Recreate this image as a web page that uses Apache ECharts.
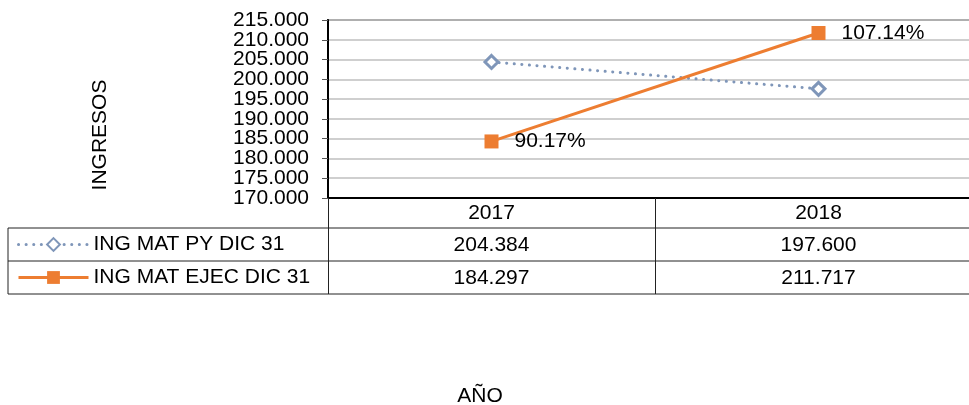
<!DOCTYPE html>
<html>
<head>
<meta charset="utf-8">
<script src="https://cdn.jsdelivr.net/npm/echarts@6/dist/echarts.min.js"></script>
<style>
  html, body { margin: 0; padding: 0; background: #fff; }
  #chart { width: 969px; height: 405px; }
</style>
</head>
<body>
<div id="chart"></div>
<script>
(function() {
  'use strict';

  var years = ['2017', '2018'];
  var ingPy = [204384, 197600];
  var ingEjec = [184297, 211717];
  var pctLabels = ['90.17%', '107.14%'];
  var seriesNames = ['ING MAT PY DIC 31', 'ING MAT EJEC DIC 31'];
  var yMin = 170000, yMax = 215000, yStep = 5000;

  var FONT = '"Liberation Sans", Arial, sans-serif';
  var BLUE = '#7F96B9';
  var ORANGE = '#ED7D31';

  // numero con punto de miles
  function fmt(v) {
    return String(Math.round(v)).replace(/\B(?=(\d{3})+(?!\d))/g, '.');
  }

  var chart = echarts.init(document.getElementById('chart'), null, { renderer: 'canvas' });

  var tableLine = { type: 'line', silent: true, style: { stroke: '#222', lineWidth: 1 } };
  function hLine(y) {
    return Object.assign({}, tableLine, { shape: { x1: 8, y1: y, x2: 990, y2: y } });
  }
  var yLabel = { fontSize: 21, fontFamily: FONT, color: '#000', margin: 19, formatter: fmt };

  chart.setOption({
    animation: false,
    grid: {
      left: 328, top: 20, width: 654, height: 178,
      outerBoundsMode: 'none', containLabel: false,
      show: true, borderColor: '#808080', borderWidth: 2
    },
    legend: {
      data: seriesNames,
      orient: 'vertical',
      left: 17,
      top: 234,
      padding: 0,
      itemWidth: 70,
      itemHeight: 16,
      itemGap: 12,
      lineStyle: { width: 3 },
      textStyle: { fontSize: 21, fontFamily: FONT, color: '#000', lineHeight: 21 }
    },
    xAxis: [
      {
        type: 'category',
        data: years,
        axisLine: { lineStyle: { color: '#000', width: 2 } },
        axisTick: { show: true, length: 96, lineStyle: { color: '#222', width: 1 } },
        axisLabel: { fontSize: 21, fontFamily: FONT, color: '#000', margin: 5 },
        splitLine: { show: false }
      },
      {
        type: 'category',
        data: ingPy.map(fmt),
        position: 'bottom',
        offset: 30,
        axisLine: { show: false },
        axisTick: { show: false },
        axisLabel: { fontSize: 21, fontFamily: FONT, color: '#000', margin: 7 }
      },
      {
        type: 'category',
        data: ingEjec.map(fmt),
        position: 'bottom',
        offset: 63,
        axisLine: { show: false },
        axisTick: { show: false },
        axisLabel: { fontSize: 21, fontFamily: FONT, color: '#000', margin: 7 }
      }
    ],
    yAxis: [
      {
        type: 'value',
        min: yMin,
        max: yMax,
        interval: yStep,
        axisLine: { show: true, lineStyle: { color: '#000', width: 2 } },
        axisTick: { show: true, length: 6, lineStyle: { color: '#555' } },
        axisLabel: Object.assign({ showMinLabel: false, showMaxLabel: false }, yLabel),
        splitLine: { lineStyle: { color: '#bfbfbf', width: 1.5 } }
      },
      {
        // solo etiquetas de min y max
        type: 'value',
        position: 'left',
        min: yMin,
        max: yMax,
        interval: yMax - yMin,
        axisLine: { show: false },
        axisTick: { show: true, length: 6, lineStyle: { color: '#555' } },
        axisLabel: yLabel,
        splitLine: { show: false }
      }
    ],
    series: [
      {
        name: seriesNames[0],
        type: 'line',
        data: ingPy,
        symbol: 'diamond',
        symbolSize: 13,
        color: BLUE,
        itemStyle: { color: '#fff', borderColor: BLUE, borderWidth: 3 },
        lineStyle: { color: BLUE, width: 3, type: [0.1, 7.5], cap: 'round' }
      },
      {
        name: seriesNames[1],
        type: 'line',
        data: ingEjec,
        symbol: 'rect',
        symbolSize: 14,
        color: ORANGE,
        itemStyle: { color: ORANGE },
        lineStyle: { color: ORANGE, width: 3 },
        label: {
          show: true,
          position: 'right',
          distance: 16,
          fontSize: 21,
          fontFamily: FONT,
          color: '#000',
          formatter: function(p) { return pctLabels[p.dataIndex]; }
        }
      }
    ],
    graphic: [
      hLine(228),
      hLine(261),
      hLine(294),
      Object.assign({}, tableLine, { shape: { x1: 8, y1: 228, x2: 8, y2: 294 } }),
      {
        type: 'text',
        x: 100,
        y: 135,
        rotation: Math.PI / 2,
        style: { text: 'INGRESOS', fontSize: 21, fontFamily: FONT, fill: '#000', align: 'center', verticalAlign: 'middle' }
      },
      {
        type: 'text',
        x: 480,
        y: 396,
        style: { text: 'AÑO', fontSize: 21, fontFamily: FONT, fill: '#000', align: 'center', verticalAlign: 'middle' }
      }
    ]
  });
})();
</script>
</body>
</html>
